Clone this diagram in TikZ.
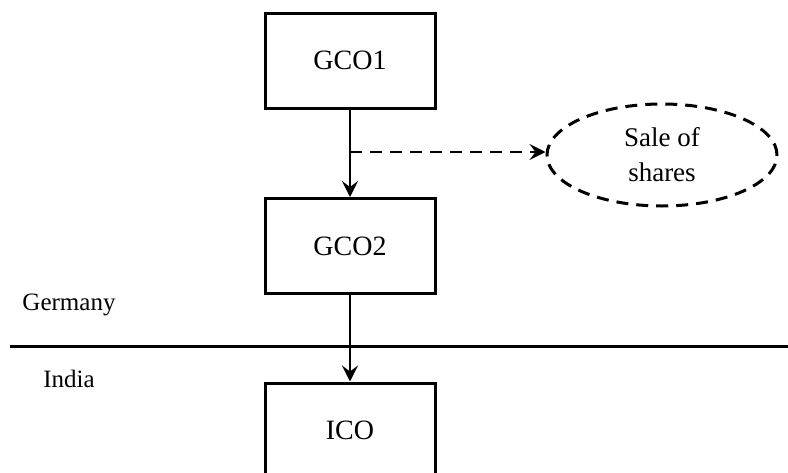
\documentclass[tikz,border=0pt]{standalone}
\usepackage{fontspec}
\setmainfont{Liberation Serif}
\usetikzlibrary{arrows.meta,shapes.geometric}
\begin{document}
\begin{tikzpicture}[x=1pt,y=-1pt,
  box/.style={draw,line width=3pt,minimum width=170pt,minimum height=95pt,inner sep=0pt,font=\fontsize{28}{32}\selectfont},
  conn/.style={line width=2.5pt,-{Stealth[length=16pt,width=16pt,inset=6pt]}},
  dsh/.style={dash pattern=on 12pt off 8pt},
  lbl/.style={font=\fontsize{25}{29}\selectfont,inner sep=0pt}]
\useasboundingbox (0,0) rectangle (788,472);
\node[box] (g1) at (350,60.5) {GCO1};
\node[box] (g2) at (350,246) {GCO2};
\node[box] (ico) at (350,430.5) {ICO};
\node[draw,ellipse,dsh,line width=3pt,minimum width=230pt,minimum height=102pt,inner sep=0pt,align=center,font=\fontsize{27}{35}\selectfont] (sale) at (662,155) {Sale of\\shares};
\coordinate (br) at (350,152);
\draw[conn] (g1) -- (g2);
\draw[conn,dsh] (br) -- (br -| sale.west);
\coordinate (l0) at (10,346);
\coordinate (l1) at (788,346);
\draw[line width=3pt] (l0) -- (l1);
\node[lbl] (ger) at (69,305) {Germany};
\node[lbl] (ind) at (69,379) {India};
\draw[conn] (g2) -- (ico);
\end{tikzpicture}
\end{document}
